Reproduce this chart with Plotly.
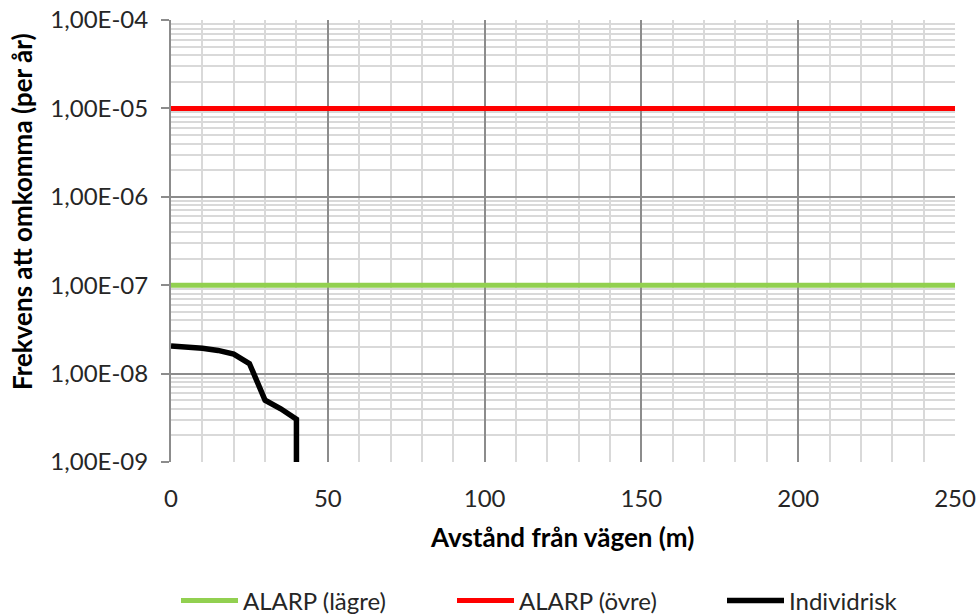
import plotly.graph_objects as go

# ---- data ----
x_line = [0, 250]
alarp_lower = [1e-7, 1e-7]
alarp_upper = [1e-5, 1e-5]
indiv_x = [0, 5, 10, 15, 20, 25, 30, 35, 40, 40]
indiv_y = [2.05e-8, 2.0e-8, 1.93e-8, 1.83e-8, 1.66e-8, 1.3e-8, 5.0e-9, 4.0e-9, 3.05e-9, 1e-9]
ytick_vals = [1e-9, 1e-8, 1e-7, 1e-6, 1e-5, 1e-4]
ytick_text = ["1,00E-09", "1,00E-08", "1,00E-07", "1,00E-06", "1,00E-05", "1,00E-04"]
xtick_vals = [0, 50, 100, 150, 200, 250]

FONT = "Lato"
W, H = 977, 614
L, R, T, B = 171, 22, 20, 152
pw = W - L - R
ph = H - T - B

fig = go.Figure()
fig.add_trace(go.Scatter(x=x_line, y=alarp_lower, mode="lines", name="ALARP (lägre)",
                         line=dict(color="#92D050", width=5), legend="legend"))
fig.add_trace(go.Scatter(x=x_line, y=alarp_upper, mode="lines", name="ALARP (övre)",
                         line=dict(color="#FF0000", width=5), legend="legend2"))
fig.add_trace(go.Scatter(x=indiv_x, y=indiv_y, mode="lines", name="Individrisk",
                         line=dict(color="#000000", width=5.5), legend="legend3"))

def px_x(p):
    return (p - L) / pw

def px_y(p):
    return (H - B - p) / ph

legfont = dict(family=FONT, size=24, color="#262626")
common_leg = dict(orientation="h", yanchor="middle", xanchor="left", font=legfont,
                  bgcolor="rgba(0,0,0,0)", borderwidth=0, itemwidth=57)

fig.update_layout(
    width=W, height=H,
    margin=dict(l=L, r=R, t=T, b=B, autoexpand=False),
    paper_bgcolor="white", plot_bgcolor="white",
    font=dict(family=FONT, color="#262626"),
    showlegend=True,
    legend=dict(x=px_x(176), y=px_y(601), **common_leg),
    legend2=dict(x=px_x(452), y=px_y(601), **common_leg),
    legend3=dict(x=px_x(722), y=px_y(601), **common_leg),
    xaxis=dict(
        range=[0, 250], tickvals=xtick_vals, ticks="", showline=False,
        showgrid=True, gridcolor="#8c8c8c", gridwidth=2,
        minor=dict(dtick=10, showgrid=True, gridcolor="#d9d9d9", gridwidth=2, ticks=""),
        tickfont=dict(family=FONT, size=24, color="#262626"),
        ticklabelstandoff=20, zeroline=False,
    ),
    yaxis=dict(
        type="log", range=[-9, -4], tickvals=ytick_vals, ticktext=ytick_text,
        ticks="outside", ticklen=8, tickwidth=2, tickcolor="#8c8c8c",
        showgrid=True, gridcolor="#8c8c8c", gridwidth=2,
        showline=True, linecolor="#8c8c8c", linewidth=2,
        minor=dict(dtick="D1", showgrid=True, gridcolor="#d9d9d9", gridwidth=2, ticks=""),
        tickfont=dict(family=FONT, size=24, color="#262626"),
        ticklabelstandoff=8, zeroline=False,
    ),
    annotations=[
        dict(text="<b>Avstånd från vägen (m)</b>", xref="paper", yref="paper",
             x=px_x(562), y=px_y(537), xanchor="center", yanchor="middle",
             showarrow=False, font=dict(family=FONT, size=26, color="#000000")),
        dict(text="<b>Frekvens att omkomma (per år)</b>", xref="paper", yref="paper",
             x=px_x(22), y=px_y(212), xanchor="center", yanchor="middle", textangle=-90,
             showarrow=False, font=dict(family=FONT, size=26, color="#000000")),
    ],
)

fig.write_html("out.html")
